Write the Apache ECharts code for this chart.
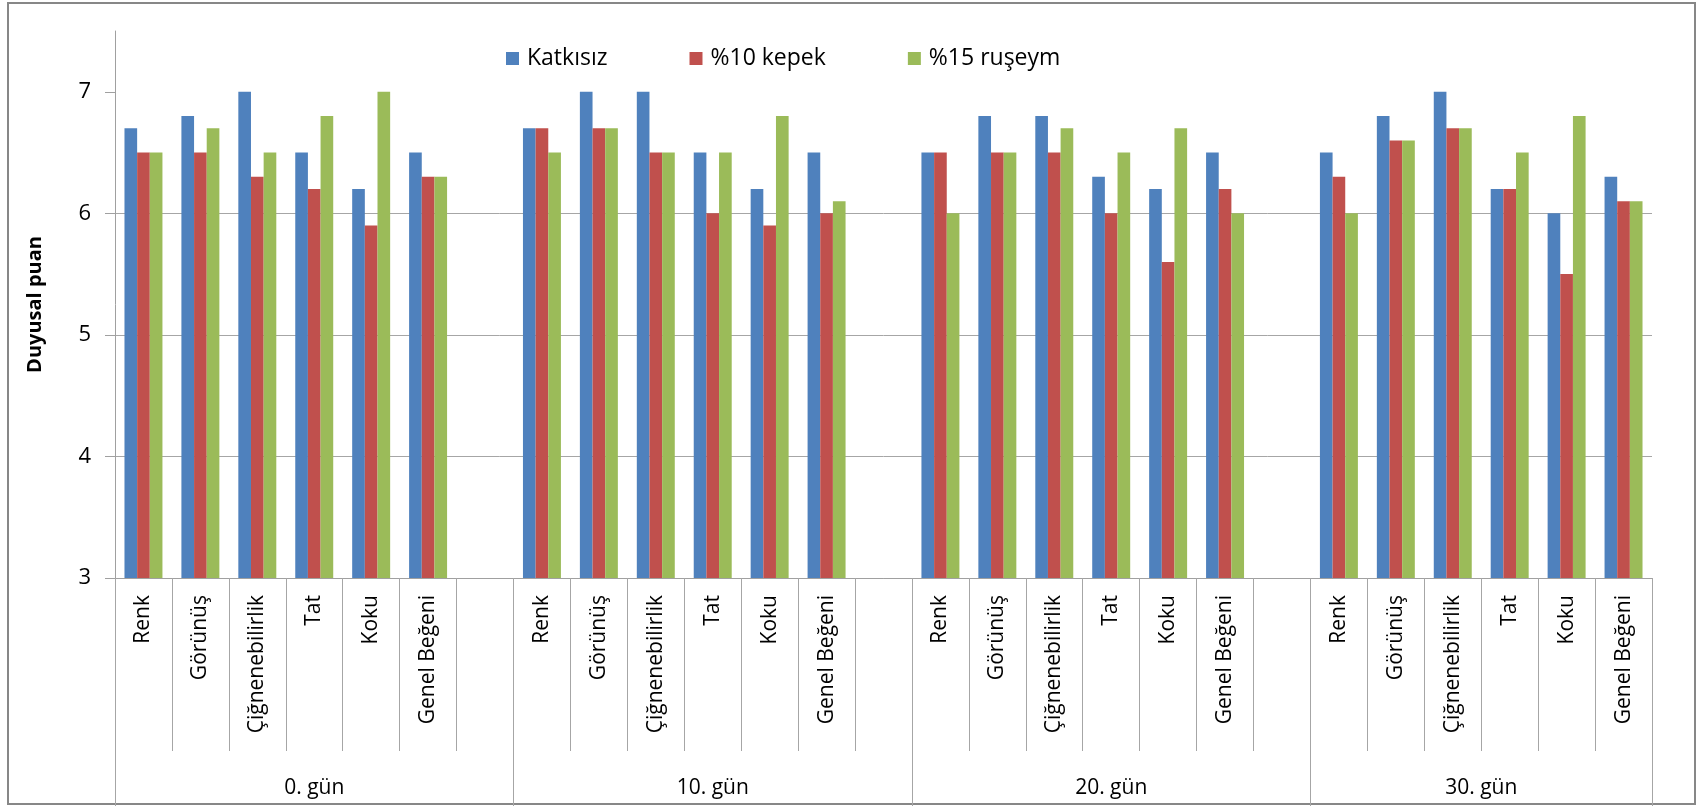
<!DOCTYPE html>
<html>
<head>
<meta charset="utf-8">
<script src="https://cdn.jsdelivr.net/npm/echarts@6/dist/echarts.min.js"></script>
<style>
  html, body { margin: 0; padding: 0; background: #fff; }
  #wrap { position: relative; width: 1698px; height: 806px; }
  #frame { position: absolute; left: 7px; top: 2px; width: 1689px; height: 803px; box-sizing: border-box; border: 2px solid #878787; pointer-events: none; }
  #chart { position: absolute; left: 0; top: 0; width: 1698px; height: 806px; }
</style>
</head>
<body>
<div id="wrap">
  <div id="frame"></div>
  <div id="chart"></div>
</div>
<script>
const groups = ['0. gün', '10. gün', '20. gün', '30. gün'];
const attributes = ['Renk', 'Görünüş', 'Çiğnenebilirlik', 'Tat', 'Koku', 'Genel Beğeni'];
const seriesNames = ['Katkısız', '%10 kepek', '%15 ruşeym'];
const katkisiz = [6.7, 6.8, 7.0, 6.5, 6.2, 6.5,  6.7, 7.0, 7.0, 6.5, 6.2, 6.5,  6.5, 6.8, 6.8, 6.3, 6.2, 6.5,  6.5, 6.8, 7.0, 6.2, 6.0, 6.3];
const kepek10  = [6.5, 6.5, 6.3, 6.2, 5.9, 6.3,  6.7, 6.7, 6.5, 6.0, 5.9, 6.0,  6.5, 6.5, 6.5, 6.0, 5.6, 6.2,  6.3, 6.6, 6.7, 6.2, 5.5, 6.1];
const ruseym15 = [6.5, 6.7, 6.5, 6.8, 7.0, 6.3,  6.5, 6.7, 6.5, 6.5, 6.8, 6.1,  6.0, 6.5, 6.7, 6.5, 6.7, 6.0,  6.0, 6.6, 6.7, 6.5, 6.8, 6.1];
const yTicks = [3, 4, 5, 6, 7];
const yMin = 3, yMax = 7.5;
const colors = ['#4F81BD', '#C0504D', '#9BBB59'];

// Build slot categories (blank spacer slot after each group except the last)
const categories = [];
const slotIndexOf = []; // data index -> slot index
const groupStart = [], groupEnd = [];
groups.forEach((g, gi) => {
  groupStart.push(categories.length);
  attributes.forEach((a) => {
    slotIndexOf.push(categories.length);
    categories.push(a);
  });
  if (gi < groups.length - 1) categories.push(' ');
  groupEnd.push(categories.length);
});
function toSlots(vals) {
  const out = categories.map(() => '-');
  vals.forEach((v, i) => { out[slotIndexOf[i]] = v; });
  return out;
}
// Second (group) axis: half-slot points, boundaryGap false
const nHalf = categories.length * 2 + 1;
const groupAxisData = [];
for (let i = 0; i < nHalf; i++) groupAxisData.push('');
const groupTickIdx = new Set();
groups.forEach((g, gi) => {
  groupAxisData[groupStart[gi] + groupEnd[gi]] = g;
  groupTickIdx.add(groupStart[gi] * 2);
  groupTickIdx.add(groupEnd[gi] * 2);
});

const FONT = '"Open Sans", "Noto Sans", sans-serif';
const chart = echarts.init(document.getElementById('chart'), null, { renderer: 'canvas' });
const allVals = [katkisiz, kepek10, ruseym15];

chart.setOption({
  animation: false,
  textStyle: { fontFamily: FONT },
  color: colors,
  legend: {
    data: seriesNames,
    left: 501,
    top: 42,
    itemWidth: 13,
    itemHeight: 13,
    itemGap: 82,
    icon: 'rect',
    textStyle: { fontSize: 23, color: '#000', fontFamily: FONT, padding: [0, 0, 0, 3] }
  },
  grid: { left: 115, right: 46, top: 31, bottom: 228, containLabel: false },
  xAxis: [
    {
      type: 'category',
      data: categories,
      position: 'bottom',
      axisLine: { show: true, lineStyle: { color: '#a0a0a0', width: 1 } },
      axisTick: { show: true, interval: 0, length: 173, lineStyle: { color: '#a6a6a6' } },
      axisLabel: { interval: 0, rotate: 90, margin: 17, fontSize: 21, color: '#000', fontFamily: FONT }
    },
    {
      type: 'category',
      data: groupAxisData,
      position: 'bottom',
      boundaryGap: false,
      axisLine: { show: false },
      axisTick: { show: true, length: 228, interval: (i) => groupTickIdx.has(i), lineStyle: { color: '#a6a6a6' } },
      axisLabel: { interval: (i, v) => v !== '', margin: 200, fontSize: 21, color: '#000', fontFamily: FONT }
    }
  ],
  yAxis: {
    type: 'value',
    min: yMin,
    max: yMax,
    interval: 1,
    name: 'Duyusal puan',
    nameLocation: 'middle',
    nameGap: 70,
    nameTextStyle: { fontSize: 20, fontWeight: 'bold', color: '#000', fontFamily: FONT },
    axisLine: { show: true, lineStyle: { color: '#a0a0a0' } },
    axisTick: { show: true, length: 10, customValues: yTicks, lineStyle: { color: '#a0a0a0' } },
    axisLabel: { customValues: yTicks, margin: 24, fontSize: 22, color: '#000', fontFamily: FONT },
    splitLine: { show: true, showMaxLine: false, lineStyle: { color: '#a6a6a6', width: 1 } }
  },
  series: seriesNames.map((name, si) => ({
    name: name,
    type: 'bar',
    xAxisIndex: 0,
    data: toSlots(allVals[si]),
    barGap: '0%',
    barCategoryGap: '33.3%',
    itemStyle: { color: colors[si] }
  }))
});
</script>
</body>
</html>
